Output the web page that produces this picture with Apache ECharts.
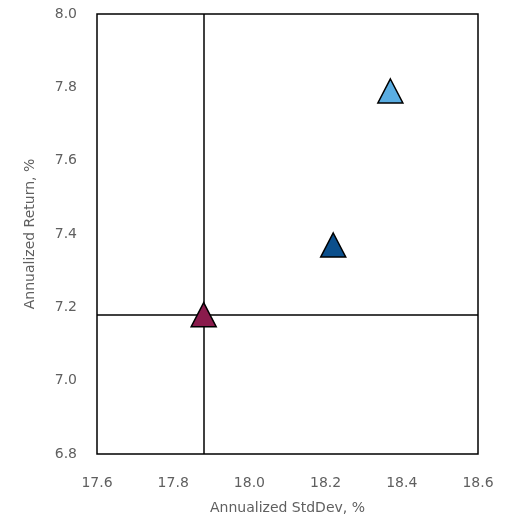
<!DOCTYPE html>
<html>
<head>
<meta charset="utf-8">
<script src="https://cdn.jsdelivr.net/npm/echarts@6/dist/echarts.min.js"></script>
<style>html,body{margin:0;padding:0;background:#fff}#c{width:508px;height:517px}</style>
</head>
<body>
<div id="c"></div>
<script>
const names = ['Portfolio A', 'Portfolio B', 'Benchmark'];
const stdDev = [18.37, 18.22, 17.88];
const returns = [7.79, 7.37, 7.18];
const colors = ['#5aade2', '#0b4f8c', '#8a1b4c'];
const refX = 17.88;
const refY = 7.18;
const xTicks = [17.6, 18.6, 0.2];
const yTicks = [6.8, 8.0, 0.2];

const font = 'DejaVu Sans';
const txt = '#5f5f5f';
const chart = echarts.init(document.getElementById('c'));
const series = names.map((n, i) => ({
  name: n,
  type: 'scatter',
  symbol: 'triangle',
  symbolSize: [25, 24],
  data: [[stdDev[i], returns[i]]],
  itemStyle: { color: colors[i], borderColor: '#000', borderWidth: 1.5, opacity: 1 },
  z: 5
}));
series.push({
  type: 'scatter',
  data: [],
  markLine: {
    silent: true,
    symbol: 'none',
    label: { show: false },
    lineStyle: { color: '#000', width: 1.5, type: 'solid' },
    data: [{ xAxis: refX }, { yAxis: refY }]
  },
  z: 2
});
chart.setOption({
  animation: false,
  grid: { left: 97, top: 14, width: 381, height: 440, outerBoundsMode: 'none', containLabel: false, show: true, borderColor: '#000', borderWidth: 1.5, backgroundColor: 'transparent' },
  xAxis: {
    type: 'value', min: xTicks[0], max: xTicks[1], interval: xTicks[2],
    name: 'Annualized StdDev, %', nameLocation: 'middle', nameGap: 47,
    nameTextStyle: { fontFamily: font, fontSize: 14, color: txt },
    axisLine: { show: false }, axisTick: { show: false }, splitLine: { show: false },
    axisLabel: { fontFamily: font, fontSize: 14, color: txt, margin: 22, formatter: v => v.toFixed(1) }
  },
  yAxis: {
    type: 'value', min: yTicks[0], max: yTicks[1], interval: yTicks[2],
    name: 'Annualized Return, %', nameLocation: 'middle', nameGap: 60,
    nameTextStyle: { fontFamily: font, fontSize: 14, color: txt },
    axisLine: { show: false }, axisTick: { show: false }, splitLine: { show: false },
    axisLabel: { fontFamily: font, fontSize: 14, color: txt, margin: 20, formatter: v => v.toFixed(1) }
  },
  series: series
});
</script>
</body>
</html>
